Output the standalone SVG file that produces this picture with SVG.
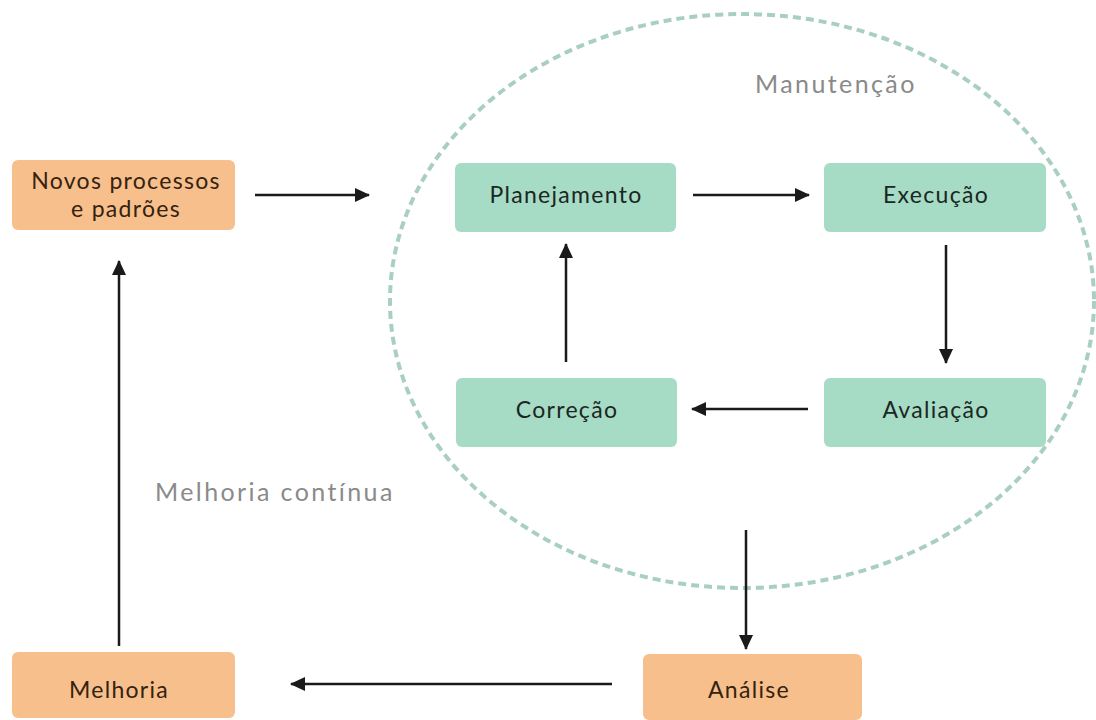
<svg xmlns="http://www.w3.org/2000/svg" width="1096" height="720" viewBox="0 0 1096 720">
  <style>
    .green { fill: #a6dbc5; }
    .peach { fill: #f6bf8c; }
    .lbl { font-family: "Lato", "Liberation Sans", sans-serif; font-size: 23px; letter-spacing: 1.3px; text-anchor: middle; }
    .lbl-g { fill: #1a2722; }
    .lbl-p { fill: #35220f; }
    .note { font-family: "Lato", "Liberation Sans", sans-serif; font-size: 25px; letter-spacing: 2.4px; fill: #8a8a8a; }
    .conn { stroke: #1a1a1a; stroke-width: 2.5; fill: none; marker-end: url(#arrow); }
  </style>
  <defs>
    <marker id="arrow" viewBox="0 0 15 14" refX="14" refY="7" markerWidth="15" markerHeight="14" markerUnits="userSpaceOnUse" orient="auto">
      <path d="M0,0 L15,7 L0,14 Z" fill="#1a1a1a"/>
    </marker>
  </defs>
  <rect width="1096" height="720" fill="#ffffff"/>

  <!-- maintenance cycle boundary -->
  <ellipse cx="742" cy="301" rx="352" ry="287" fill="none" stroke="#a9cfc2" stroke-width="4" stroke-dasharray="8 5"/>
  <text class="note" x="755" y="93">Manutenção</text>
  <text class="note" x="155" y="501">Melhoria contínua</text>

  <g id="connectors">
    <line class="conn" x1="255" y1="195" x2="369" y2="195"/>
    <line class="conn" x1="693" y1="195" x2="809" y2="195"/>
    <line class="conn" x1="946" y1="245" x2="946" y2="363"/>
    <line class="conn" x1="808" y1="409" x2="692" y2="409"/>
    <line class="conn" x1="566" y1="362" x2="566" y2="244"/>
    <line class="conn" x1="746" y1="530" x2="746" y2="649"/>
    <line class="conn" x1="612" y1="684" x2="291" y2="684"/>
    <line class="conn" x1="119" y1="646" x2="119" y2="261"/>
  </g>

  <g id="novos">
    <rect class="peach" x="12" y="160" width="223" height="70" rx="6"/>
    <text class="lbl lbl-p" x="126" y="189">Novos processos</text>
    <text class="lbl lbl-p" x="126" y="217">e padrões</text>
  </g>
  <g id="planejamento">
    <rect class="green" x="455" y="163" width="221" height="69" rx="6"/>
    <text class="lbl lbl-g" x="566" y="203">Planejamento</text>
  </g>
  <g id="execucao">
    <rect class="green" x="824" y="163" width="222" height="69" rx="6"/>
    <text class="lbl lbl-g" x="936" y="203">Execução</text>
  </g>
  <g id="correcao">
    <rect class="green" x="456" y="378" width="221" height="69" rx="6"/>
    <text class="lbl lbl-g" x="567" y="418">Correção</text>
  </g>
  <g id="avaliacao">
    <rect class="green" x="824" y="378" width="222" height="69" rx="6"/>
    <text class="lbl lbl-g" x="936" y="418">Avaliação</text>
  </g>
  <g id="melhoria">
    <rect class="peach" x="12" y="652" width="223" height="66" rx="6"/>
    <text class="lbl lbl-p" x="119" y="698">Melhoria</text>
  </g>
  <g id="analise">
    <rect class="peach" x="643" y="654" width="219" height="66" rx="6"/>
    <text class="lbl lbl-p" x="749" y="698">Análise</text>
  </g>
</svg>
